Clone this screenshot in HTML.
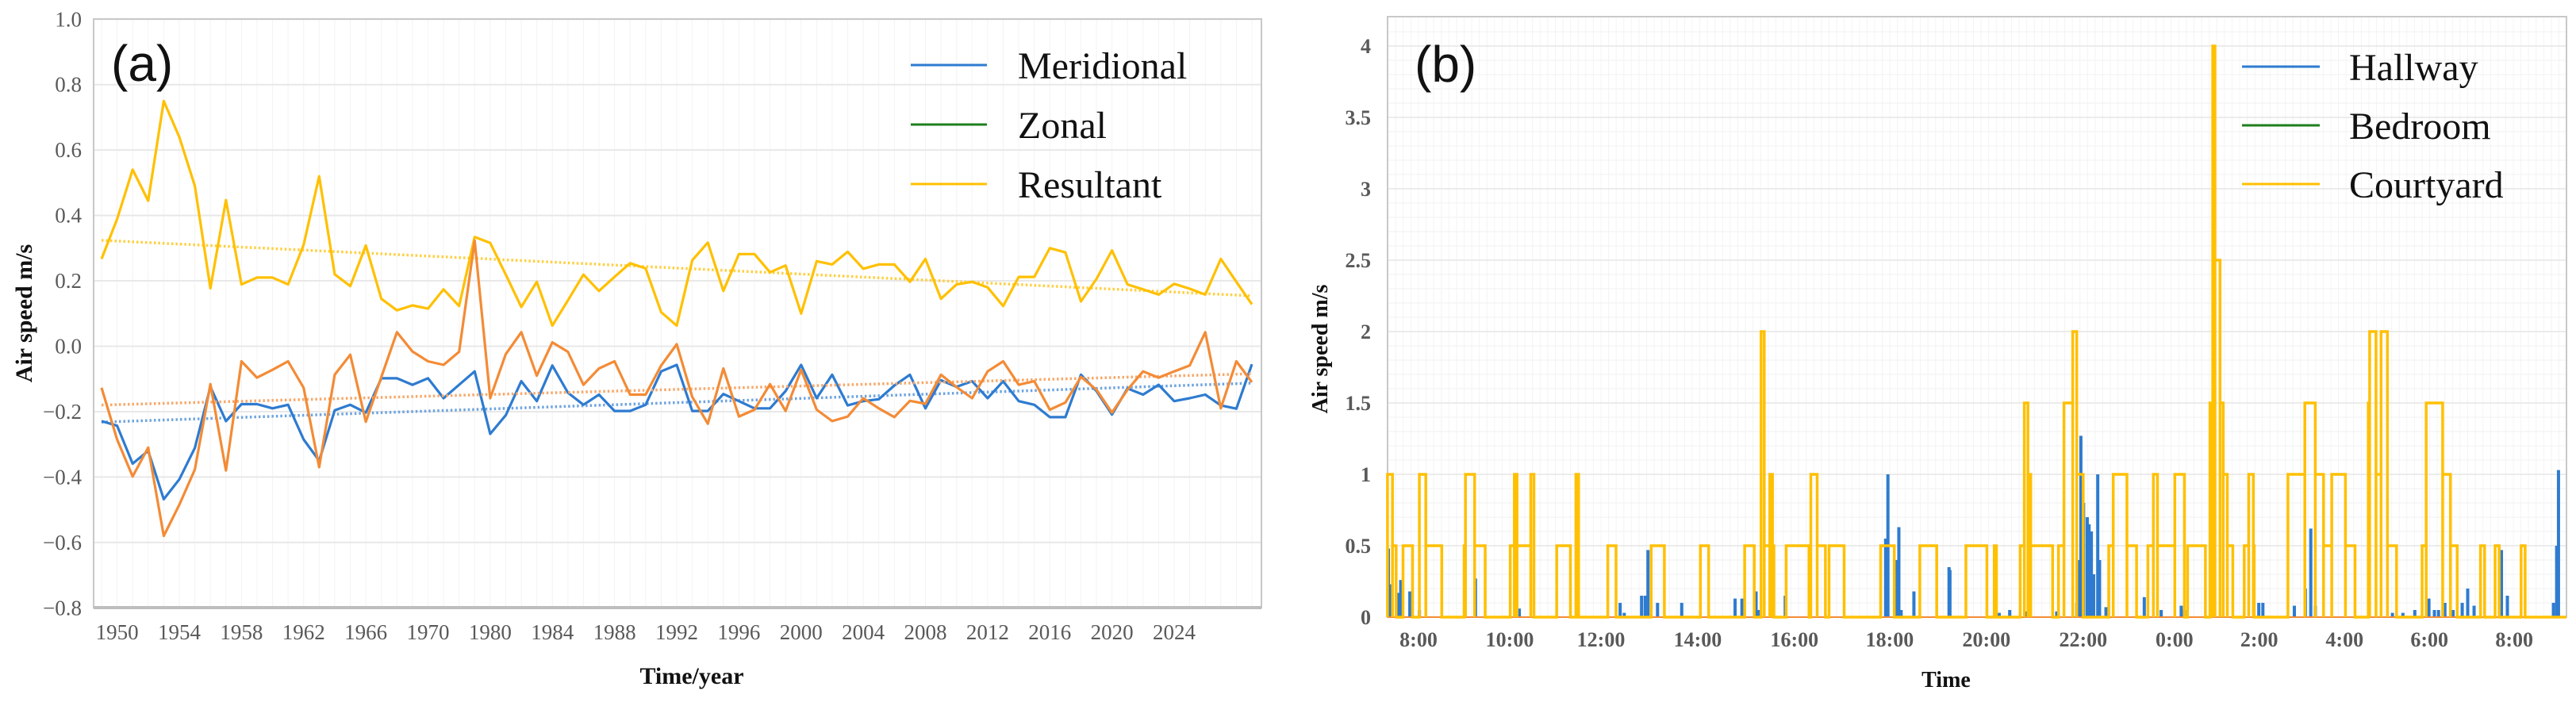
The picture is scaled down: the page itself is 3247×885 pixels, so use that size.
<!DOCTYPE html>
<html><head><meta charset="utf-8">
<style>
html,body{margin:0;padding:0;background:#fff;}
svg{display:block;}
.tk{font-family:"Liberation Serif",serif;fill:#595959;}
</style></head>
<body>
<svg id="fig" width="3247" height="885" viewBox="0 0 3247 885" xmlns="http://www.w3.org/2000/svg">
  <g id="chartA"></g>
  <g id="chartB"></g>
</svg>
<script>
// ---------- Chart (a) data ----------
const yearTickLabels = ["1950","1954","1958","1962","1966","1970","1980","1984","1988","1992","1996","2000","2004","2008","2012","2016","2020","2024"];
const yTicksA = [1.0,0.8,0.6,0.4,0.2,0.0,-0.2,-0.4,-0.6,-0.8];
const resultant = [0.267,0.389,0.54,0.445,0.75,0.64,0.49,0.177,0.447,0.189,0.21,0.21,0.189,0.31,0.52,0.22,0.184,0.308,0.145,0.11,0.125,0.115,0.174,0.123,0.334,0.316,0.219,0.12,0.197,0.063,0.14,0.219,0.169,0.212,0.254,0.238,0.104,0.063,0.263,0.317,0.169,0.282,0.282,0.226,0.247,0.10,0.26,0.25,0.289,0.237,0.25,0.25,0.197,0.267,0.145,0.189,0.197,0.18,0.123,0.212,0.212,0.30,0.287,0.137,0.206,0.293,0.189,0.174,0.158,0.191,0.176,0.158,0.267,0.197,0.128];
const zonal = [-0.127,-0.285,-0.398,-0.31,-0.58,-0.485,-0.377,-0.116,-0.38,-0.046,-0.096,-0.072,-0.046,-0.127,-0.37,-0.087,-0.026,-0.231,-0.094,0.043,-0.016,-0.046,-0.057,-0.017,0.323,-0.159,-0.024,0.043,-0.09,0.012,-0.017,-0.118,-0.068,-0.046,-0.148,-0.148,-0.059,0.006,-0.155,-0.237,-0.068,-0.215,-0.194,-0.116,-0.198,-0.072,-0.194,-0.229,-0.215,-0.159,-0.19,-0.217,-0.167,-0.176,-0.087,-0.125,-0.159,-0.077,-0.046,-0.118,-0.107,-0.194,-0.172,-0.094,-0.133,-0.203,-0.133,-0.077,-0.096,-0.077,-0.059,0.043,-0.19,-0.046,-0.11];
const meridional = [-0.229,-0.243,-0.359,-0.32,-0.468,-0.407,-0.311,-0.124,-0.229,-0.177,-0.177,-0.19,-0.179,-0.285,-0.35,-0.196,-0.179,-0.203,-0.098,-0.098,-0.118,-0.098,-0.159,-0.118,-0.077,-0.268,-0.211,-0.107,-0.168,-0.059,-0.142,-0.179,-0.148,-0.198,-0.198,-0.179,-0.077,-0.057,-0.198,-0.198,-0.146,-0.168,-0.19,-0.19,-0.137,-0.057,-0.159,-0.087,-0.181,-0.168,-0.162,-0.12,-0.087,-0.19,-0.104,-0.124,-0.107,-0.159,-0.107,-0.168,-0.179,-0.217,-0.217,-0.087,-0.137,-0.209,-0.129,-0.148,-0.118,-0.168,-0.159,-0.148,-0.181,-0.191,-0.055];
const legendA = ["Meridional","Zonal","Resultant"];

// ---------- Chart (b) data ----------
const timeTickLabels = ["8:00","10:00","12:00","14:00","16:00","18:00","20:00","22:00","0:00","2:00","4:00","6:00","8:00"];
const timeTickHours = [8,10,12,14.12,16.24,18.33,20.45,22.57,24.57,26.43,28.30,30.16,32.02];
const yTicksB = [0,0.5,1,1.5,2,2.5,3,3.5,4];
const hallwayT = [7.34,7.40,7.57,7.61,7.81,7.84,8.02,9.25,10.21,12.42,12.51,12.89,12.97,13.03,13.24,13.77,14.94,15.09,15.40,15.47,16.04,18.24,18.29,18.47,18.53,18.58,18.86,19.63,19.65,20.73,20.96,21.33,21.99,22.43,22.47,22.52,22.58,22.66,22.70,22.75,22.80,22.89,22.93,23.07,23.91,24.28,24.72,24.79,26.42,26.51,27.20,27.44,27.56,27.66,29.35,29.58,29.84,30.15,30.27,30.36,30.50,30.68,30.88,31.00,31.14,31.74,31.87,32.88,32.95,32.99];
const hallwayV = [0.48,0.23,0.17,0.26,0.18,0.15,0.05,0.27,0.06,0.1,0.03,0.15,0.15,0.47,0.1,0.1,0.13,0.13,0.18,0.05,0.15,0.55,1.0,0.4,0.63,0.05,0.18,0.35,0.33,0.03,0.05,0.04,0.04,0.1,0.4,1.27,0.8,0.7,0.65,0.6,0.3,1.0,0.4,0.07,0.14,0.05,0.08,0.05,0.1,0.1,0.08,0.2,0.62,0.08,0.03,0.03,0.05,0.13,0.05,0.05,0.1,0.05,0.1,0.2,0.08,0.47,0.15,0.1,0.5,1.03];
const courtStart = [7.32,7.43,7.66,8.02,8.16,9.00,9.03,9.23,10.01,10.10,10.16,10.46,11.03,11.45,12.15,13.10,14.18,15.15,15.51,15.58,15.70,15.76,16.06,16.60,16.74,17.00,18.13,18.99,20.00,20.62,21.19,21.28,21.36,21.42,22.03,22.15,22.34,22.43,23.13,23.23,23.53,23.99,24.11,24.20,24.58,24.86,25.35,25.41,25.46,25.57,25.64,25.73,26.10,26.20,26.30,27.06,27.43,27.66,27.84,28.02,28.32,28.82,28.85,28.99,29.10,29.24,30.00,30.09,30.45,30.62,31.28,31.60,32.17];
const courtEnd   = [7.43,7.51,7.87,8.16,8.51,9.03,9.23,9.46,10.10,10.16,10.46,10.53,11.33,11.51,12.33,13.39,14.36,15.36,15.58,15.70,15.76,15.79,16.56,16.74,16.92,17.33,18.43,19.36,20.46,20.67,21.28,21.36,21.42,21.90,22.15,22.34,22.43,22.57,23.23,23.53,23.74,24.11,24.20,24.58,24.79,25.25,25.41,25.46,25.57,25.64,25.73,25.85,26.20,26.30,26.32,27.43,27.66,27.84,28.02,28.32,28.53,28.85,28.99,29.10,29.24,29.44,30.09,30.45,30.62,30.77,31.37,31.69,32.26];
const courtVal   = [1,0.5,0.5,1,0.5,0.5,1,0.5,0.5,1,0.5,1,0.5,1,0.5,0.5,0.5,0.5,2,0.5,1,0.5,0.5,1,0.5,0.5,0.5,0.5,0.5,0.5,0.5,1.5,1,0.5,0.5,1.5,2,1,0.5,1,0.5,0.5,1,0.5,1,0.5,1.5,4,2.5,1.5,1,0.5,0.5,1,0.5,1,1.5,1,0.5,1,0.5,1.5,2,1,2,0.5,0.5,1.5,1,0.5,0.5,0.5,0.5];
const bedroomT = [7.32,33.16];
const bedroomV = [0,0];
const legendB = ["Hallway","Bedroom","Courtyard"];

// ---------- helpers ----------
const NS = "http://www.w3.org/2000/svg";
function mk(tag, attrs, parent){ const e=document.createElementNS(NS,tag); for(const k in attrs) e.setAttribute(k,attrs[k]); parent.appendChild(e); return e; }

// ---------- Chart (a) ----------
const gA = document.getElementById('chartA');
const A = {l:118, r:1590, t:24, b:766};
const nA = resultant.length;
function xA(i){ return 128 + i*(1578-128)/(nA-1); }
function yA(v){ return 436.5 - v*412.2; }

let bgA = mk('rect',{x:A.l,y:A.t,width:A.r-A.l,height:A.b-A.t,fill:'#fff',stroke:'none'},gA);


for(let i=0;i<nA;i++){
  let l = mk('line',{x1:xA(i),x2:xA(i),y1:A.t,y2:A.b,stroke:'#f3f3f3','stroke-width':1},gA);
  
  
}
yTicksA.forEach(v=>{
  let l = mk('line',{x1:A.l,x2:A.r,y1:yA(v),y2:yA(v),stroke:'#e8e8e8','stroke-width':2},gA);
  
  
  let t = mk('text',{x:103,y:yA(v)+9,'text-anchor':'end','font-size':27,class:'tk'},gA);
  t.textContent = (v<0?'\u2212':'') + Math.abs(v).toFixed(1);
  
  
});
let frA = mk('rect',{x:A.l,y:A.t,width:A.r-A.l,height:A.b-A.t,fill:'none',stroke:'#c8c8c8','stroke-width':2},gA);


let axA = mk('line',{x1:A.l,x2:A.r,y1:A.b,y2:A.b,stroke:'#bdbdbd','stroke-width':4},gA);



yearTickLabels.forEach((lab,k)=>{
  let t = mk('text',{x:xA(1+4*k),y:806,'text-anchor':'middle','font-size':27,class:'tk'},gA);
  t.textContent = lab;
  
  
});

function trend(arr){
  const n=arr.length; let sx=0,sy=0,sxx=0,sxy=0;
  arr.forEach((v,i)=>{sx+=i;sy+=v;sxx+=i*i;sxy+=i*v;});
  const m=(n*sxy-sx*sy)/(n*sxx-sx*sx); const c=(sy-m*sx)/n; return [c, c+m*(n-1)];
}
function series(arr,color,trendColor,name){
  const tr = trend(arr);
  let tl = mk('line',{x1:xA(0),y1:yA(tr[0]),x2:xA(nA-1),y2:yA(tr[1]),stroke:trendColor,'stroke-width':3.5,'stroke-dasharray':'2.5 3'},gA);
  
  
  let p = mk('polyline',{points:arr.map((v,i)=>xA(i).toFixed(1)+','+yA(v).toFixed(1)).join(' '),fill:'none',stroke:color,'stroke-width':3.2,'stroke-linejoin':'round'},gA);
  
  
}
series(resultant,'#FFC000','#FFCF40','resultant');
series(meridional,'#2E7BD0','#6FA4E0','meridional');
series(zonal,'#F38B36','#F7A86A','zonal');

let lblA = mk('text',{x:140,y:102,'font-size':64,'font-family':'"Liberation Sans",sans-serif',fill:'#111'},gA);
lblA.textContent='(a)';



const legColA = ['#2E7BD0','#1E7F1E','#FFC000'];
legendA.forEach((s,k)=>{
  const y = 82 + k*75;
  let l = mk('line',{x1:1148,x2:1244,y1:y,y2:y,stroke:legColA[k],'stroke-width':3},gA);
  
  
  let t = mk('text',{x:1283,y:y+17,'font-size':48,'font-family':'"Liberation Serif",serif',fill:'#111'},gA);
  t.textContent=s;
  
  
});

let ytA = mk('text',{x:0,y:0,'font-size':30,'font-weight':'bold','font-family':'"Liberation Serif",serif',fill:'#111','text-anchor':'middle',transform:'translate(40,395) rotate(-90)'},gA);
ytA.textContent='Air speed m/s';


let xtA = mk('text',{x:872,y:862,'font-size':30,'font-weight':'bold','font-family':'"Liberation Serif",serif',fill:'#111','text-anchor':'middle'},gA);
xtA.textContent='Time/year';



// ---------- Chart (b) ----------
const gB = document.getElementById('chartB');
const B = {l:1749, r:3235, t:21, b:778};
function xB(h){ return 1788 + (h-8)*57.5; }
function yB(v){ return 778 - v*180; }

for(let h=7.5; h<33.2; h+=1/6){
  if(xB(h)<B.l||xB(h)>B.r) continue;
  let l = mk('line',{x1:xB(h),x2:xB(h),y1:B.t,y2:B.b,stroke:'#f4f4f4','stroke-width':1},gB);
  
  
}
for(let v=0.1; v<4.2; v+=0.1){
  let l = mk('line',{x1:B.l,x2:B.r,y1:yB(v),y2:yB(v),stroke:'#f1f1f1','stroke-width':1},gB);
  
  
}
yTicksB.forEach(v=>{
  let l = mk('line',{x1:B.l,x2:B.r,y1:yB(v),y2:yB(v),stroke:'#e6e6e6','stroke-width':1.5},gB);
  
  
  let t = mk('text',{x:1728,y:yB(v)+9,'text-anchor':'end','font-size':26,'font-weight':'bold',class:'tk'},gB);
  t.textContent = String(v);
  
  
});
let frB = mk('rect',{x:B.l,y:B.t,width:B.r-B.l,height:B.b-B.t,fill:'none',stroke:'#c8c8c8','stroke-width':2},gB);



timeTickLabels.forEach((lab,k)=>{
  let t = mk('text',{x:xB(timeTickHours[k]),y:815,'text-anchor':'middle','font-size':26,'font-weight':'bold',class:'tk'},gB);
  t.textContent = lab;
  
  
});

// hallway bars
hallwayT.forEach((h,i)=>{
  let r = mk('rect',{x:xB(h)-2,y:yB(hallwayV[i]),width:4,height:yB(0)-yB(hallwayV[i]),fill:'#2E7BD0'},gB);
  
  
});
// bedroom line
let bed = mk('polyline',{points:bedroomT.map((h,i)=>xB(h)+','+yB(bedroomV[i])).join(' '),fill:'none',stroke:'#F38B36','stroke-width':2},gB);


// courtyard step line
let pts = [[xB(7.32),yB(0)]];
courtStart.forEach((s,i)=>{
  pts.push([xB(s),yB(0)]); pts.push([xB(s),yB(courtVal[i])]);
  pts.push([xB(courtEnd[i]),yB(courtVal[i])]); pts.push([xB(courtEnd[i]),yB(0)]);
});
pts.push([xB(33.16),yB(0)]);
let cy = mk('polyline',{points:pts.map(p=>p[0].toFixed(1)+','+p[1].toFixed(1)).join(' '),fill:'none',stroke:'#FFC000','stroke-width':3.5,'stroke-linejoin':'miter'},gB);



let lblB = mk('text',{x:1783,y:103,'font-size':64,'font-family':'"Liberation Sans",sans-serif',fill:'#111'},gB);
lblB.textContent='(b)';



const legColB = ['#2E7BD0','#1E7F1E','#FFC000'];
legendB.forEach((s,k)=>{
  const y = 84 + k*74;
  let l = mk('line',{x1:2826,x2:2924,y1:y,y2:y,stroke:legColB[k],'stroke-width':3},gB);
  
  
  let t = mk('text',{x:2961,y:y+17,'font-size':48,'font-family':'"Liberation Serif",serif',fill:'#111'},gB);
  t.textContent=s;
  
  
});

let ytB = mk('text',{x:0,y:0,'font-size':28,'font-weight':'bold','font-family':'"Liberation Serif",serif',fill:'#111','text-anchor':'middle',transform:'translate(1673,440) rotate(-90)'},gB);
ytB.textContent='Air speed m/s';


let xtB = mk('text',{x:2453,y:866,'font-size':28,'font-weight':'bold','font-family':'"Liberation Serif",serif',fill:'#111','text-anchor':'middle'},gB);
xtB.textContent='Time';


</script>
</body></html>
